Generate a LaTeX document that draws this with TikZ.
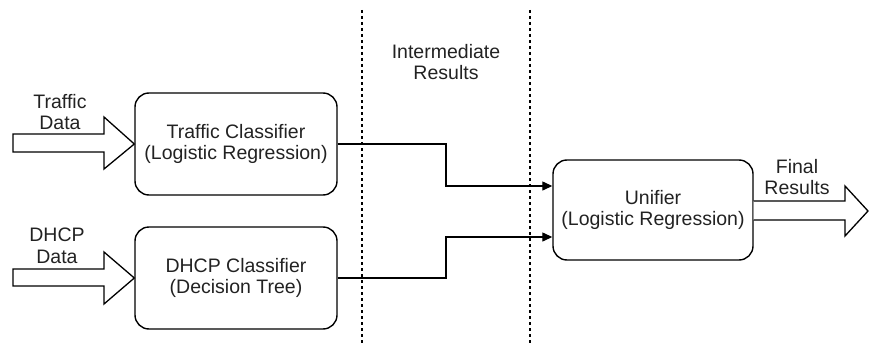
\documentclass[tikz,border=0pt]{standalone}
\usepackage{fontspec}
\setmainfont{Liberation Sans}
\usetikzlibrary{arrows.meta}
\definecolor{ink}{HTML}{222222}
\begin{document}
\begin{tikzpicture}[x=1pt,y=-1pt,
  box/.style={draw=black,line width=1.4pt,rounded corners=14pt,minimum width=202pt,minimum height=102pt,
    align=center,font=\fontsize{19.5}{21.7}\selectfont,text=ink,inner sep=0pt},
  lbl/.style={align=center,font=\fontsize{19.5}{21.5}\selectfont,text=ink,inner sep=0pt},
  fat/.style={draw=black,line width=1.3pt,fill=white,line join=miter},
  link/.style={draw=black,line width=1.3pt,-{Triangle[length=10pt,width=9pt]}},
  divider/.style={draw=black,line width=1.1pt,dash pattern=on 3pt off 3pt}]
\useasboundingbox (0,0) rectangle (870,345);

% dividers around the intermediate stage
\draw[divider] (362,10) -- (362,345);
\draw[divider] (530,10) -- (530,345);
\node[lbl] (inter) at (446,62) {Intermediate\\Results};

% classifiers and unifier
\node[box] (traffic) at (236,144) {Traffic Classifier\\(Logistic Regression)};
\node[box] (dhcp) at (236,278) {DHCP Classifier\\(Decision Tree)};
\node[box,minimum width=200pt,minimum height=100pt] (unifier) at (653,210) {Unifier\\(Logistic Regression)};

% input block arrows
\draw[fat] (13,134) -- (104,134) -- (104,117) -- (traffic.west) -- (104,169) -- (104,152) -- (13,152) -- cycle;
\node[lbl] (tdata) at (60,112) {Traffic\\Data};
\draw[fat] (13,269) -- (104,269) -- (104,252) -- (dhcp.west) -- (104,304) -- (104,286) -- (13,286) -- cycle;
\node[lbl] (ddata) at (57,246) {DHCP\\Data};

% output block arrow
\coordinate (tip) at (868,211);
\draw[fat] (unifier.east |- 0,201) -- (845,201) -- (845,186) -- (tip) -- (845,236) -- (845,220) -- (unifier.east |- 0,220);
\node[lbl] (final) at (797,177) {Final\\Results};

% intermediate results into the unifier
\coordinate (u1) at (unifier.west |- 0,186);
\coordinate (u2) at (unifier.west |- 0,237);
\draw[link] (traffic.east) -- (446,144) -- (446,186) -- (u1);
\draw[link] (dhcp.east) -- (446,278) -- (446,237) -- (u2);
\end{tikzpicture}
\end{document}
